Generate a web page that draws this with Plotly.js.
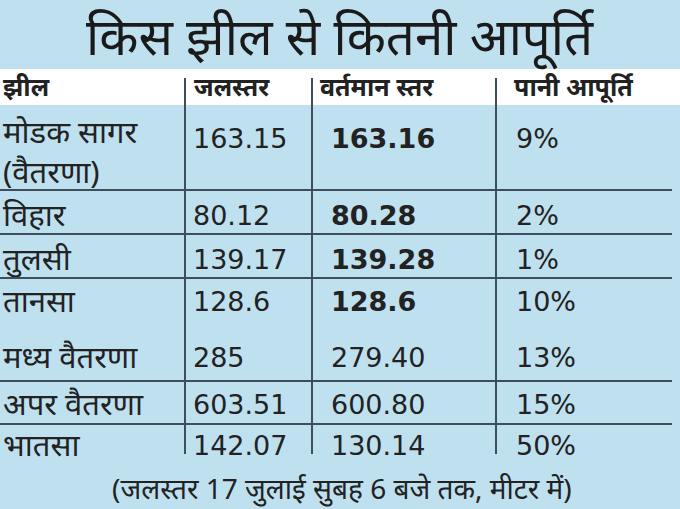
<!DOCTYPE html>
<html>
<head>
<meta charset="utf-8">
<script src="https://cdn.plot.ly/plotly-3.0.1.min.js"></script>
<style>
  body { margin: 0; padding: 0; background: #bfe0ef; }
  #plotDiv { width: 680px; height: 509px; }
</style>
</head>
<body>
<div id="plotDiv"></div>
<script>
// table content
var title = 'किस झील से कितनी आपूर्ति';
var headers = ['झील', 'जलस्तर', 'वर्तमान स्तर', 'पानी आपूर्ति'];
var lakes = ['मोडक सागर<br>(वैतरणा)', 'विहार', 'तुलसी', 'तानसा', 'मध्य वैतरणा', 'अपर वैतरणा', 'भातसा'];
var waterLevel = ['163.15', '80.12', '139.17', '128.6', '285', '603.51', '142.07'];
var currentLevel = ['163.16', '80.28', '139.28', '128.6', '279.40', '600.80', '130.14'];
var supply = ['9%', '2%', '1%', '10%', '13%', '15%', '50%'];
var note = '(जलस्तर 17 जुलाई सुबह 6 बजे तक, मीटर में)';

// layout of the table (pixel coords, y down)
var colX = [3, 193, 331, 516];
var headX = [3, 194, 320, 514];
var divX = [185, 312, 496];
var rowY = [141, 218, 262, 304, 360, 407, 448];
var lineY = [190, 234, 278, 381, 424];
var boldRows = 4;

var blue = '#bfe0ef';
var ink = '#222222';
var lineCol = '#3d4f5c';
var fam = '"Noto Sans", sans-serif';
var numFam = '"DejaVu Sans", sans-serif';

var lakeY = rowY.slice();
lakeY[0] = rowY[0] + 14;

var cur = currentLevel.map(function(v, i) { return i < boldRows ? '<b>' + v + '</b>' : v; });

function col(x, y, text, family, size) {
  return {
    x: y.map(function() { return x; }),
    y: y,
    text: text,
    mode: 'text',
    type: 'scatter',
    textposition: 'middle right',
    textfont: { family: family, size: size, color: ink },
    hoverinfo: 'skip',
    showlegend: false
  };
}

var data = [
  col(colX[0], lakeY, lakes, fam, 31),
  col(colX[1], rowY, waterLevel, numFam, 27),
  col(colX[2], rowY, cur, numFam, 27),
  col(colX[3], rowY, supply, numFam, 27),
  {
    x: headX, y: headX.map(function() { return 90; }),
    text: headers.map(function(h) { return '<b>' + h + '</b>'; }),
    mode: 'text', type: 'scatter', textposition: 'middle right',
    textfont: { family: fam, size: 25, color: ink },
    hoverinfo: 'skip', showlegend: false
  }
];

var shapes = [
  { type: 'rect', xref: 'x', yref: 'y', x0: 0, x1: 680, y0: 69, y1: 105,
    fillcolor: '#ffffff', line: { width: 0 }, layer: 'below' }
];
divX.forEach(function(x) {
  shapes.push({ type: 'line', xref: 'x', yref: 'y', x0: x, x1: x, y0: 78, y1: 454,
    line: { color: lineCol, width: 2 } });
});
lineY.forEach(function(y) {
  shapes.push({ type: 'line', xref: 'x', yref: 'y', x0: 0, x1: 672, y0: y, y1: y,
    line: { color: lineCol, width: 2 } });
});

var layout = {
  width: 680, height: 509,
  margin: { l: 0, r: 0, t: 0, b: 0, pad: 0 },
  paper_bgcolor: blue, plot_bgcolor: blue,
  xaxis: { range: [0, 680], visible: false, fixedrange: true },
  yaxis: { range: [509, 0], visible: false, fixedrange: true },
  shapes: shapes,
  annotations: [
    { xref: 'x', yref: 'y', x: 340, y: 35, text: title, showarrow: false,
      font: { family: fam, size: 51, color: '#1a1a1a' }, xanchor: 'center', yanchor: 'middle' },
    { xref: 'x', yref: 'y', x: 342, y: 488, text: note, showarrow: false,
      font: { family: fam, size: 28, color: ink }, xanchor: 'center', yanchor: 'middle' }
  ]
};

Plotly.newPlot('plotDiv', data, layout, { displayModeBar: false, staticPlot: true });
</script>
</body>
</html>
